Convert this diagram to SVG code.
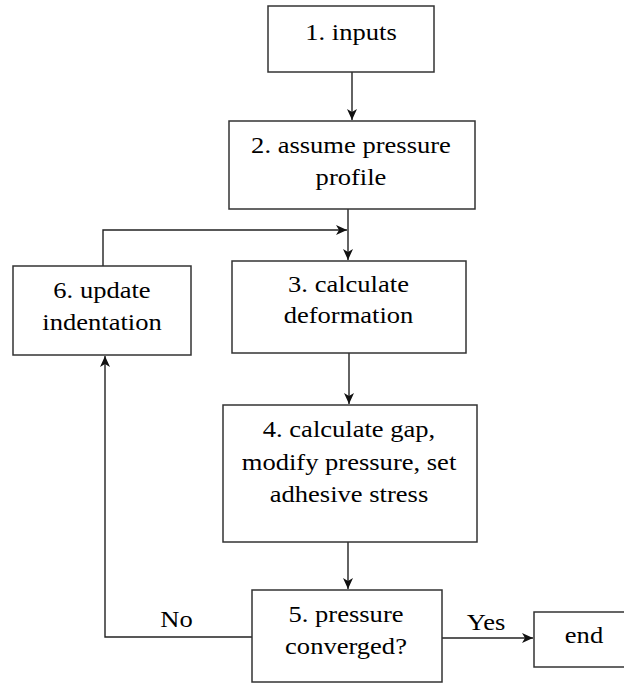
<svg xmlns="http://www.w3.org/2000/svg" width="624" height="683" viewBox="0 0 624 683">
<defs>
<style>
.box{fill:#fff;stroke:#333;stroke-width:1.5}
.t{font-family:"Liberation Serif","Times New Roman",serif;font-size:23.5px;fill:#000;text-anchor:middle}
.c{fill:none;stroke:#222;stroke-width:1.4}
</style>
<marker id="ah" markerUnits="userSpaceOnUse" markerWidth="12" markerHeight="12" viewBox="0 0 12 12" refX="11" refY="6" orient="auto">
<path d="M0,1 L11,6 L0,11 L3,6 Z" fill="#111"/>
</marker>
</defs>
<rect width="624" height="683" fill="#fff"/>
<g id="connectors">
<path class="c" d="M352,72 V120" marker-end="url(#ah)"/>
<path class="c" d="M348,209 V260" marker-end="url(#ah)"/>
<path class="c" d="M103,266 V230 H347" marker-end="url(#ah)"/>
<path class="c" d="M349,353 V404" marker-end="url(#ah)"/>
<path class="c" d="M348,542 V589" marker-end="url(#ah)"/>
<path class="c" d="M252,637 H105 V356" marker-end="url(#ah)"/>
<path class="c" d="M442,638 H533" marker-end="url(#ah)"/>
<text class="t" transform="translate(176.5 627) scale(1.13 1)">No</text>
<text class="t" transform="translate(486 630) scale(1.13 1)">Yes</text>
</g>
<g id="n1">
<rect class="box" x="268" y="6" width="166" height="66"/>
<text class="t" transform="translate(351 40) scale(1.13 1)">1. inputs</text>
</g>
<g id="n2">
<rect class="box" x="229" y="121" width="246" height="88"/>
<text class="t" transform="translate(351 153) scale(1.13 1)">2. assume pressure</text>
<text class="t" transform="translate(351 185) scale(1.13 1)">profile</text>
</g>
<g id="n3">
<rect class="box" x="232" y="261" width="234" height="92"/>
<text class="t" transform="translate(348.5 292) scale(1.13 1)">3. calculate</text>
<text class="t" transform="translate(348.5 323) scale(1.13 1)">deformation</text>
</g>
<g id="n6">
<rect class="box" x="13" y="266" width="178" height="89"/>
<text class="t" transform="translate(102 298) scale(1.13 1)">6. update</text>
<text class="t" transform="translate(102 330) scale(1.13 1)">indentation</text>
</g>
<g id="n4">
<rect class="box" x="223" y="405" width="254" height="137"/>
<text class="t" transform="translate(349 437) scale(1.13 1)">4. calculate gap,</text>
<text class="t" transform="translate(349 470) scale(1.13 1)">modify pressure, set</text>
<text class="t" transform="translate(349 502) scale(1.13 1)">adhesive stress</text>
</g>
<g id="n5">
<rect class="box" x="252" y="590" width="190" height="92"/>
<text class="t" transform="translate(346 622) scale(1.13 1)">5. pressure</text>
<text class="t" transform="translate(346 654) scale(1.13 1)">converged?</text>
</g>
<g id="n7">
<rect class="box" x="534" y="612" width="96" height="55"/>
<text class="t" transform="translate(584 643) scale(1.13 1)">end</text>
</g>
</svg>
